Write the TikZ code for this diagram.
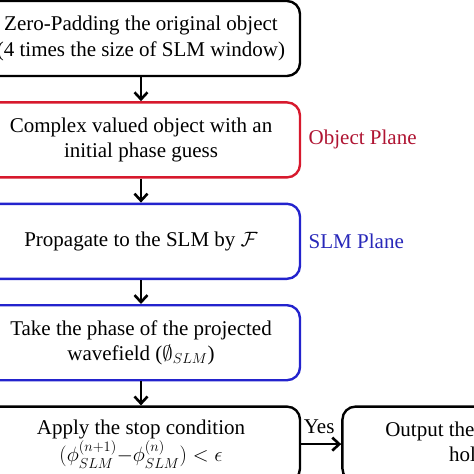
\documentclass[tikz,border=0pt]{standalone}
\usepackage{amsmath, amssymb}
\usepackage{fontspec}
\setmainfont{Liberation Serif}
\usepackage{tikz}
\usetikzlibrary{positioning, arrows.meta}
\usepackage{xcolor}
\definecolor{objRed}{RGB}{215, 25, 45}
\definecolor{slmBlue}{RGB}{35, 35, 205}
\definecolor{objLabel}{RGB}{175, 20, 50}
\definecolor{slmLabel}{RGB}{40, 40, 185}

\begin{document}
\begin{tikzpicture}[x=1pt, y=1pt, font=\fontsize{21}{25.5}\selectfont,
    stepbox/.style={draw, line width=2.4pt, rounded corners=13pt, minimum width=318pt,
      minimum height=75pt, align=center, inner sep=2pt},
    flow/.style={-{Straight Barb[length=7pt, width=13pt]}, line width=2.6pt},
    node distance=24pt]
  \useasboundingbox (0,0) rectangle (474,-474);
  \clip (0,0) rectangle (474,-474);
  % main column
  \node[stepbox] (pad) at (141,-38.5) {Zero-Padding the original object\\(4 times the size of SLM window)};
  \node[stepbox, draw=objRed, below=of pad] (init) {Complex valued object with an\\initial phase guess};
  \node[stepbox, draw=slmBlue, below=of init] (prop) {Propagate to the SLM by $\mathcal{F}$};
  \node[stepbox, draw=slmBlue, below=of prop] (phase) {Take the phase of the projected\\wavefield ($\emptyset_{SLM}$)};
  \node[stepbox, below=of phase] (check) {Apply the stop condition\\{\fontsize{22}{25.5}\selectfont$(\phi_{SLM}^{(n+1)}{-}\phi_{SLM}^{(n)}) < \epsilon$}};
  \node[stepbox, minimum width=294pt, right=40pt of check] (out) {Output the desired phase\\hologram};
  % plane labels
  \node[right=4pt of init, text=objLabel] (objplane) {Object Plane};
  \node[right=4pt of prop, text=slmLabel] (slmplane) {SLM Plane};
  % arrows
  \foreach \a/\b in {pad/init, init/prop, prop/phase, phase/check} {
    \draw[flow] (\a) -- (\b);
  }
  \draw[flow] (check) -- node[above=6pt, xshift=-2pt] (yes) {Yes} (out);
\end{tikzpicture}
\end{document}
